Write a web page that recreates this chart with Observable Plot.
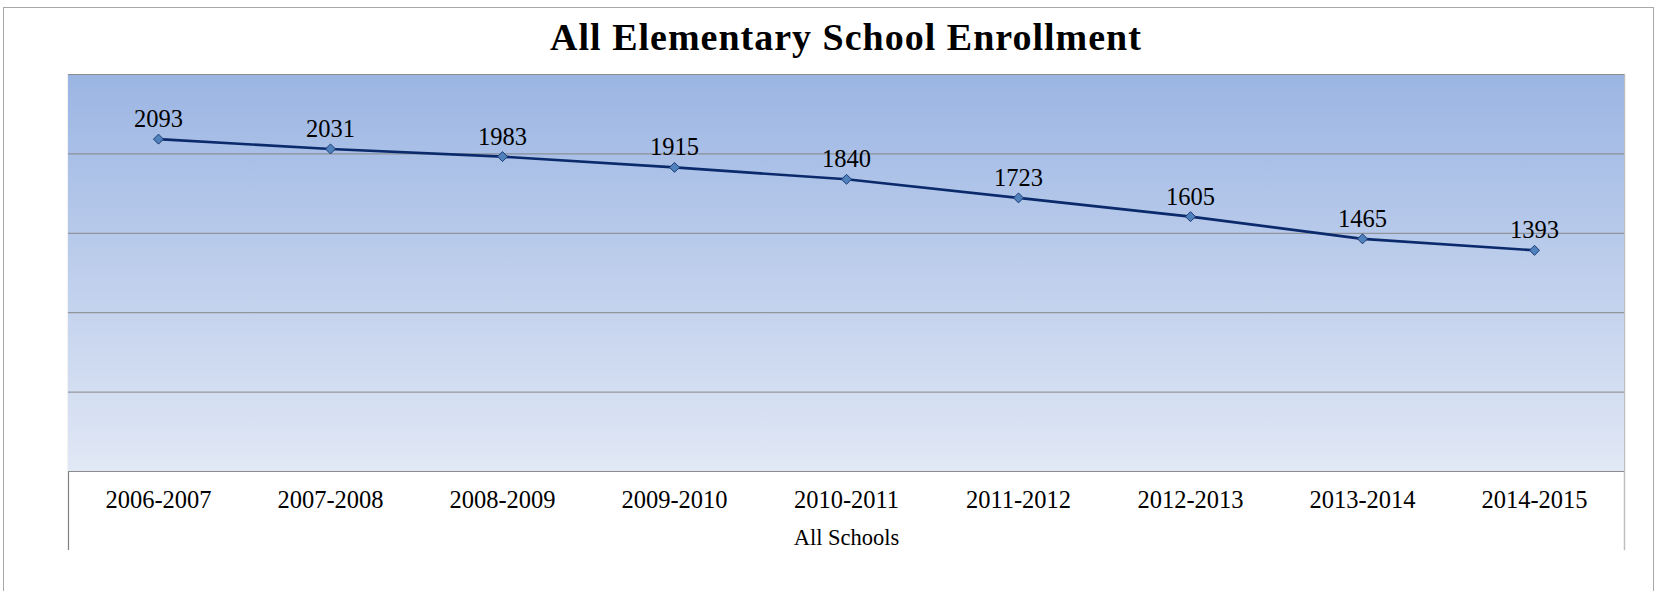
<!DOCTYPE html>
<html>
<head>
<meta charset="utf-8">
<script src="https://cdn.jsdelivr.net/npm/d3@7"></script>
<script src="https://cdn.jsdelivr.net/npm/@observablehq/plot@0.6"></script>
<style>
  html, body { margin: 0; padding: 0; background: #fff; }
  #wrap { position: relative; width: 1657px; height: 591px; overflow: hidden; }
  #border { position: absolute; left: 3px; top: 7px; width: 1651px; height: 620px; box-sizing: border-box;
            border: 1.5px solid #A8A8A8; border-bottom: none; }
  #title { position: absolute; left: 68px; width: 1556px; top: 18px; text-align: center;
           font-family: 'Liberation Serif', serif; font-weight: bold; font-size: 38px; line-height: 38px;
           letter-spacing: 1px; color: #000; }
  #chart { position: absolute; left: 0; top: 0; }
</style>
</head>
<body>
<div id="wrap">
  <div id="border"></div>
  <div id="chart"></div>
  <div id="title">All Elementary School Enrollment</div>
</div>
<script>
// ---- data ----
const seasons = ["2006-2007", "2007-2008", "2008-2009", "2009-2010", "2010-2011", "2011-2012", "2012-2013", "2013-2014", "2014-2015"];
const enrollment = [2093, 2031, 1983, 1915, 1840, 1723, 1605, 1465, 1393];
const gridValues = [500, 1000, 1500, 2000];
const axisMin = 0;
const axisMax = 2500;
const xAxisTitle = "All Schools";

const data = seasons.map((s, i) => ({ season: s, value: enrollment[i] }));

const svg = Plot.plot({
  width: 1657,
  height: 591,
  marginLeft: 68,
  marginRight: 33,
  marginTop: 74,
  marginBottom: 42,
  style: { fontFamily: "'Liberation Serif', serif", background: "transparent", overflow: "visible" },
  x: { type: "point", domain: seasons, padding: 0.5, axis: null },
  y: { domain: [-491, axisMax], axis: null },
  marks: [
    Plot.frame({ anchor: "left", stroke: "#808080", strokeWidth: 1.2 }),
    Plot.frame({ anchor: "right", stroke: "#BFBFBF", strokeWidth: 1.5 }),
    Plot.rect([{ lo: axisMin, hi: axisMax }], { y1: "lo", y2: "hi", fill: "url(#plotBg)" }),
    Plot.ruleY(gridValues, { stroke: "#868686", strokeWidth: 1 }),
    Plot.ruleY([axisMin, axisMax], { stroke: "#8C8C8C", strokeWidth: 1.2 }),
    Plot.line(data, { x: "season", y: "value", stroke: "#0B2A6B", strokeWidth: 2.6 }),
    Plot.dot(data, { x: "season", y: "value", symbol: "diamond2", r: 4.5, fill: "#4F81BD", stroke: "#1F3B73", strokeWidth: 1 }),
    Plot.text(data, { x: "season", y: "value", text: d => String(d.value), dy: -12, lineAnchor: "bottom", fontSize: 24.5, fill: "#000" }),
    Plot.text(seasons, { x: d => d, frameAnchor: "bottom", dy: -49, lineAnchor: "middle", fontSize: 24.5, fill: "#000" }),
    Plot.text([xAxisTitle], { frameAnchor: "bottom", dy: -12, lineAnchor: "middle", fontSize: 22.5, fill: "#000" })
  ]
});

// gradient definition for the plot background
const ns = "http://www.w3.org/2000/svg";
const defs = document.createElementNS(ns, "defs");
const grad = document.createElementNS(ns, "linearGradient");
grad.setAttribute("id", "plotBg");
grad.setAttribute("x1", "0"); grad.setAttribute("y1", "0");
grad.setAttribute("x2", "0"); grad.setAttribute("y2", "1");
[["0%", "#9BB5E3"], ["100%", "#E1E8F5"]].forEach(([o, c]) => {
  const st = document.createElementNS(ns, "stop");
  st.setAttribute("offset", o);
  st.setAttribute("stop-color", c);
  grad.appendChild(st);
});
defs.appendChild(grad);
svg.insertBefore(defs, svg.firstChild);

document.getElementById("chart").appendChild(svg);
</script>
</body>
</html>
